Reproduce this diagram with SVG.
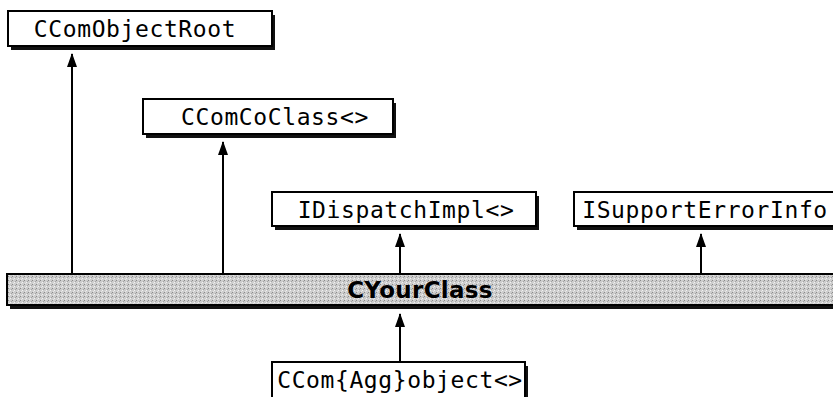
<svg xmlns="http://www.w3.org/2000/svg" width="833" height="397" viewBox="0 0 833 397">
<style>
.box{fill:#fff;stroke:#000;stroke-width:2}
.sh{fill:#111}
.t{font-family:"DejaVu Sans Mono",monospace;font-size:23px;letter-spacing:0.6px;fill:#000;text-anchor:middle}
.c{stroke:#000;stroke-width:2;fill:none;marker-end:url(#ah)}
</style>
<defs>
<marker id="ah" viewBox="0 0 14 10" refX="13" refY="5" markerWidth="14" markerHeight="10" markerUnits="userSpaceOnUse" orient="auto">
<path d="M0,0 L14,5 L0,10 Z" fill="#000"/>
</marker>
<pattern id="dots" width="4" height="4" patternUnits="userSpaceOnUse">
<rect width="4" height="4" fill="#cdcdcd"/>
<rect x="0" y="0" width="1" height="1" fill="#8a8a8a"/>
<rect x="2" y="2" width="1" height="1" fill="#f2f2f2"/>
<rect x="3" y="1" width="1" height="1" fill="#a4a4a4"/>
<rect x="1" y="3" width="1" height="1" fill="#e6e6e6"/>
</pattern>
</defs>
<g id="connectors">
<line class="c" x1="72" y1="274" x2="72" y2="54"/>
<line class="c" x1="223" y1="274" x2="223" y2="142"/>
<line class="c" x1="400" y1="274" x2="400" y2="234"/>
<line class="c" x1="701" y1="274" x2="701" y2="234"/>
<line class="c" x1="400" y1="362" x2="400" y2="314"/>
</g>
<g id="CComObjectRoot">
<rect class="sh" x="11" y="15" width="264" height="35"/>
<rect class="box" x="8" y="11" width="264" height="35"/>
<text class="t" x="135" y="37">CComObjectRoot</text>
</g>
<g id="CComCoClass">
<rect class="sh" x="146" y="103" width="250" height="35"/>
<rect class="box" x="143" y="99" width="250" height="35"/>
<text class="t" x="275" y="125">CComCoClass&lt;&gt;</text>
</g>
<g id="IDispatchImpl">
<rect class="sh" x="275" y="196" width="264" height="34"/>
<rect class="box" x="272" y="192" width="264" height="34"/>
<text class="t" x="406" y="218">IDispatchImpl&lt;&gt;</text>
</g>
<g id="ISupportErrorInfo">
<rect class="sh" x="577" y="196" width="270" height="34"/>
<rect class="box" x="574" y="192" width="270" height="34"/>
<text class="t" x="705" y="218">ISupportErrorInfo</text>
</g>
<g id="CYourClass">
<rect class="sh" x="10" y="278" width="830" height="31"/>
<rect x="7" y="274" width="830" height="31" fill="url(#dots)" stroke="#000" stroke-width="2"/>
<text x="420" y="298" font-family="DejaVu Sans, sans-serif" font-weight="bold" font-size="23" letter-spacing="0.3" text-anchor="middle" fill="#000">CYourClass</text>
</g>
<g id="CComAggObject">
<rect class="sh" x="275" y="366" width="253" height="40"/>
<rect class="box" x="272" y="362" width="253" height="40"/>
<text class="t" x="400" y="388">CCom{Agg}object&lt;&gt;</text>
</g>
</svg>
